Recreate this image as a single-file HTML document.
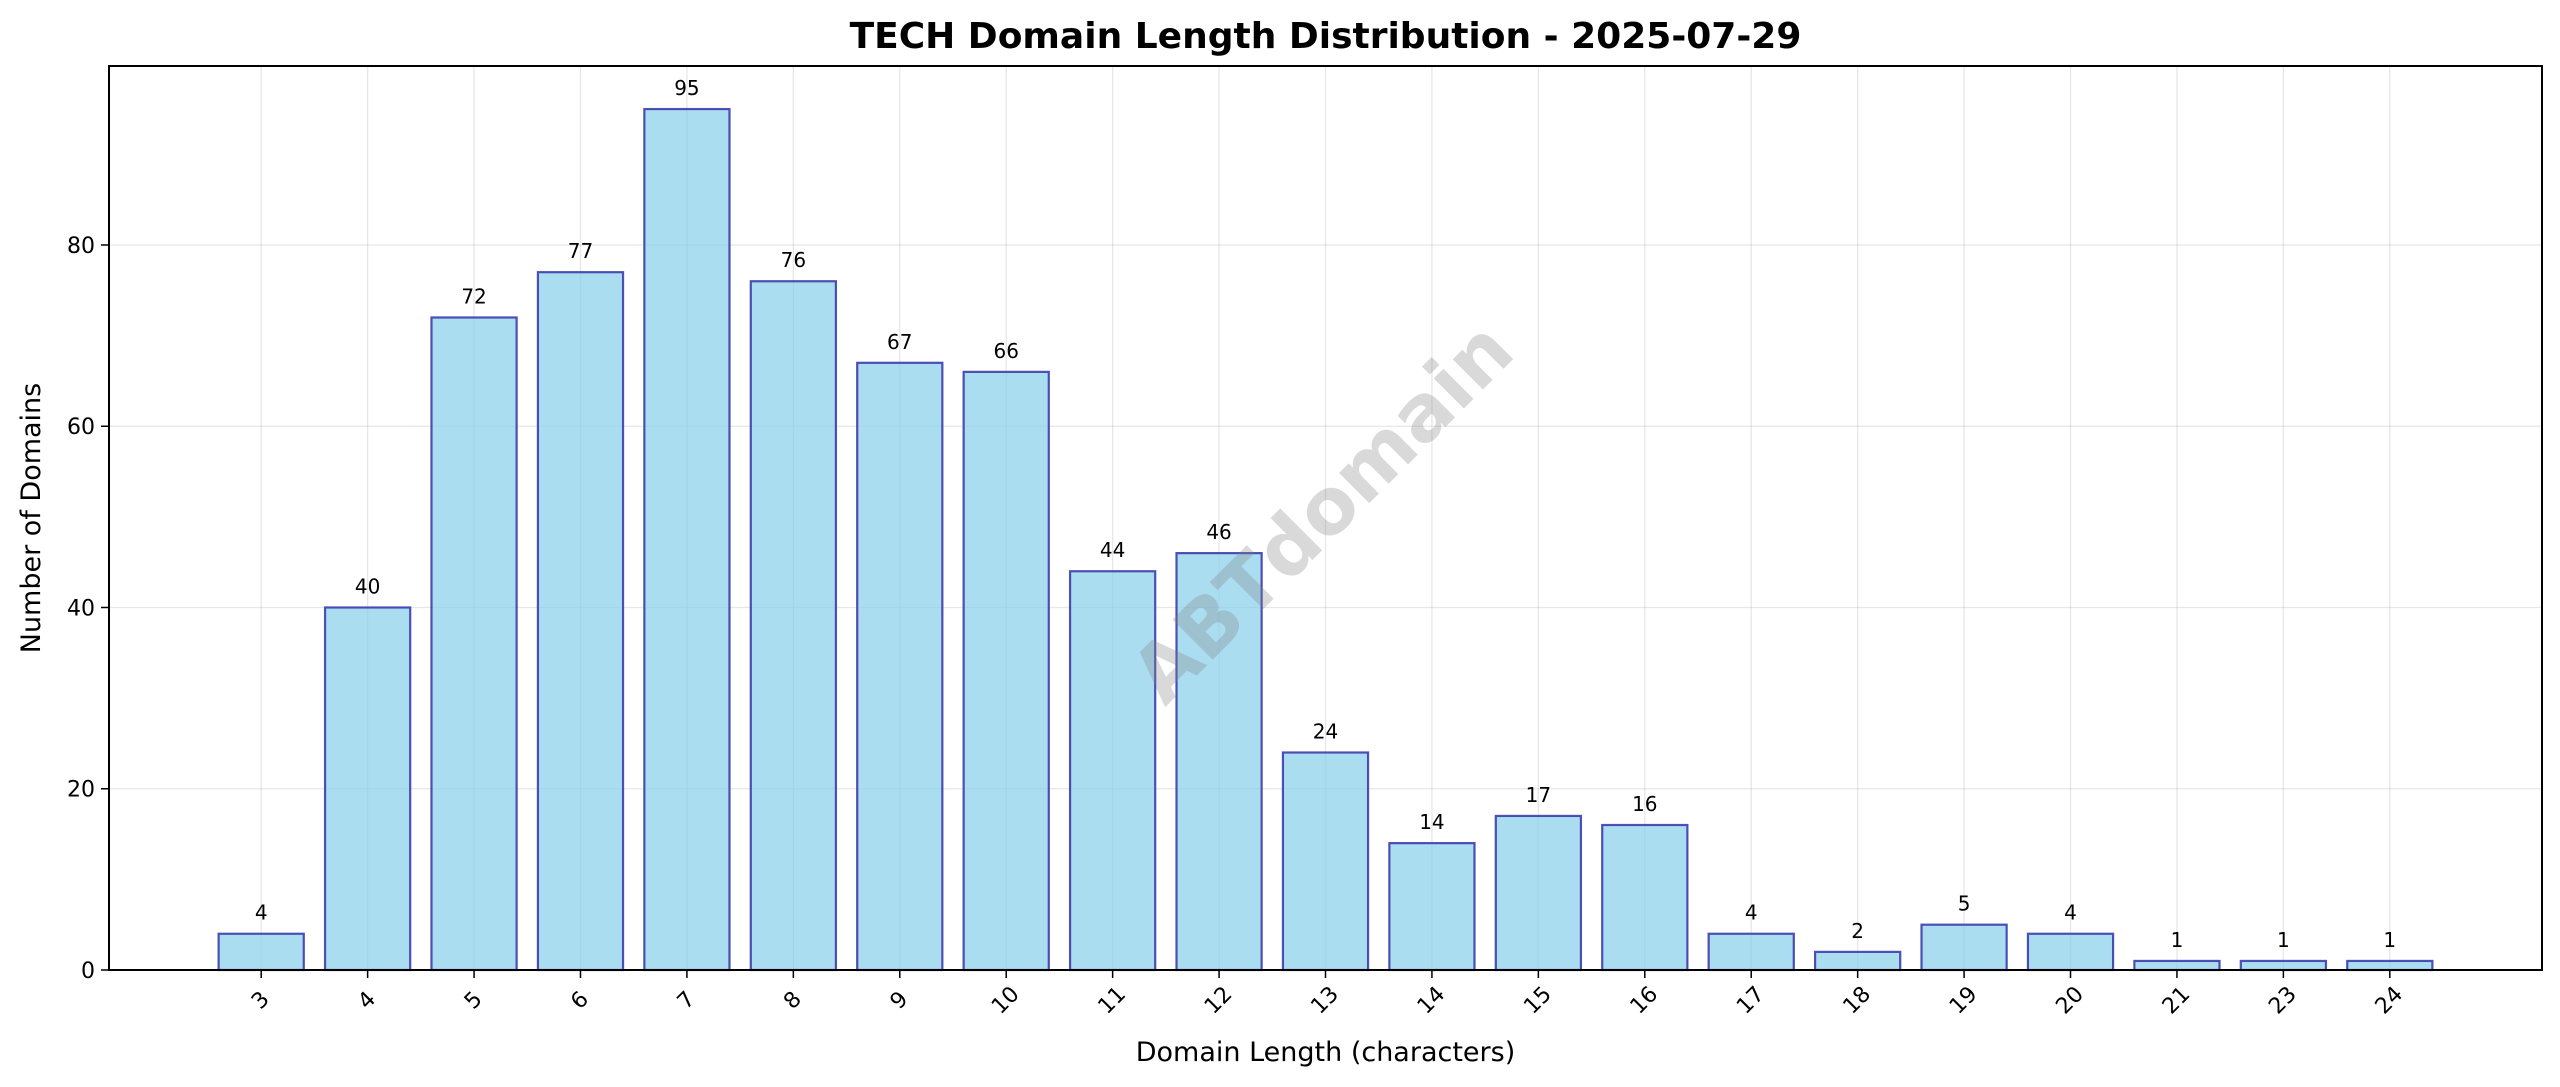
<!DOCTYPE html>
<html><head><meta charset="utf-8"><style>
body{margin:0;background:#fff;}
svg{display:block;font-family:"DejaVu Sans","Liberation Sans",sans-serif;}
</style></head><body>
<svg id="chart" width="2560" height="1087"></svg>
<script>
const categories=["3","4","5","6","7","8","9","10","11","12","13","14","15","16","17","18","19","20","21","23","24"];
const counts=[4,40,72,77,95,76,67,66,44,46,24,14,17,16,4,2,5,4,1,1,1];
const yTicks=[0,20,40,60,80];
const NS="http://www.w3.org/2000/svg";
const svg=document.getElementById('chart');
const L=109,R=2542,T=66,B=970;
const xmin=-1.43,xmax=categories.length-1+1.43;
const ymax=Math.max(...counts)*1.05;
const xs=i=>L+(i-xmin)/(xmax-xmin)*(R-L);
const ys=v=>B-v/ymax*(B-T);
const bw=0.8*(R-L)/(xmax-xmin);
function mk(tag,attrs,parent){const e=document.createElementNS(NS,tag);for(const k in attrs)e.setAttribute(k,attrs[k]);(parent||svg).appendChild(e);return e;}
categories.forEach((c,i)=>{const g=mk('line',{x1:xs(i),x2:xs(i),y1:T,y2:B,stroke:'#b0b0b0','stroke-opacity':0.3,'stroke-width':1.3});

});
yTicks.forEach(v=>{const g=mk('line',{x1:L,x2:R,y1:ys(v),y2:ys(v),stroke:'#b0b0b0','stroke-opacity':0.3,'stroke-width':1.3});

});
categories.forEach((c,i)=>{
const r=mk('rect',{x:xs(i)-bw/2,y:ys(counts[i]),width:bw,height:B-ys(counts[i]),fill:'#87ceeb','fill-opacity':0.7,stroke:'#3333aa','stroke-opacity':0.85,'stroke-width':2.2});


const t=mk('text',{x:xs(i),y:ys(counts[i])-14,'text-anchor':'middle','font-size':20,fill:'#000'});
t.textContent=counts[i];


const tk=mk('line',{x1:xs(i),x2:xs(i),y1:B,y2:B+8,stroke:'#000','stroke-width':1.5});


const xl=mk('text',{x:0,y:0,'text-anchor':'middle','font-size':22,fill:'#000',transform:`translate(${xs(i)},${B+31}) rotate(-45)`,'dominant-baseline':'middle'});
xl.textContent=c;


});
yTicks.forEach(v=>{
const tk=mk('line',{x1:L-8,x2:L,y1:ys(v),y2:ys(v),stroke:'#000','stroke-width':1.5});


const t=mk('text',{x:L-14,y:ys(v)+8,'text-anchor':'end','font-size':22,fill:'#000'});
t.textContent=v;


});
const frame=mk('rect',{x:L,y:T,width:R-L,height:B-T,fill:'none',stroke:'#000','stroke-width':2});


const wm=mk('text',{x:0,y:0,'text-anchor':'middle','dominant-baseline':'middle','font-size':78,'font-weight':'bold',fill:'#808080','fill-opacity':0.3,transform:'translate(1326,516) rotate(-45)'});
wm.textContent='ABTdomain';


const title=mk('text',{x:(L+R)/2,y:48,'text-anchor':'middle','font-size':36,'font-weight':'bold',fill:'#000'});
title.textContent='TECH Domain Length Distribution - 2025-07-29';


const xt=mk('text',{x:(L+R)/2,y:1061,'text-anchor':'middle','font-size':27,fill:'#000'});
xt.textContent='Domain Length (characters)';


const yt=mk('text',{x:0,y:0,'text-anchor':'middle','font-size':27,fill:'#000',transform:`translate(40,${(T+B)/2}) rotate(-90)`});
yt.textContent='Number of Domains';


</script>
</body></html>
